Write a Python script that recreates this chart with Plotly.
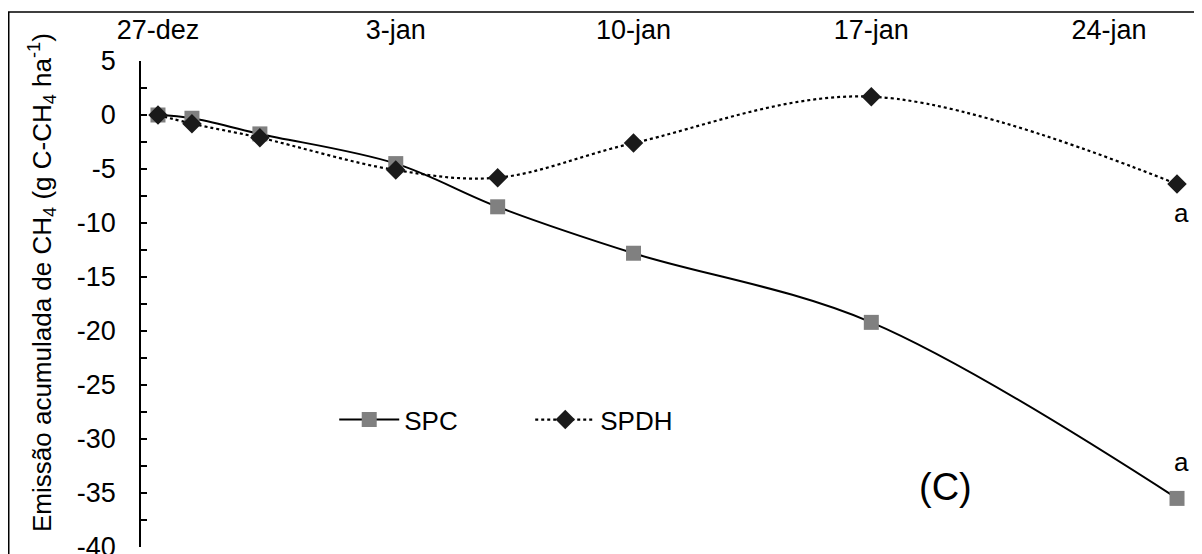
import pandas as pd
import plotly.graph_objects as go

# ---- data ----
dates = ["2012-12-27", "2012-12-28", "2012-12-30", "2013-01-03",
         "2013-01-06", "2013-01-10", "2013-01-17", "2013-01-26"]
spc = [0.0, -0.3, -1.75, -4.5, -8.5, -12.8, -19.2, -35.5]
spdh = [0.0, -0.8, -2.1, -5.1, -5.8, -2.6, 1.7, -6.4]
tick_dates = ["2012-12-27", "2013-01-03", "2013-01-10", "2013-01-17", "2013-01-24"]
tick_labels = ["27-dez", "3-jan", "10-jan", "17-jan", "24-jan"]
y_ticks = [5, 0, -5, -10, -15, -20, -25, -30, -35, -40]
series_names = ["SPC", "SPDH"]
sig_letters = ["a", "a"]
panel_label = "(C)"
y_title = "Emissão acumulada de CH<sub>4</sub> (g C-CH<sub>4</sub> ha<sup>-1</sup>)"

FONT = "Liberation Sans, Arial, sans-serif"
half_day = pd.Timedelta(hours=12)
x_pts = pd.to_datetime(dates) + half_day          # Excel date axis: points centred in the day
lab_pos = pd.to_datetime(tick_dates) + half_day
tick_pos = pd.to_datetime(tick_dates)
x_range = ["2012-12-27", "2013-01-27"]

# page has an 8px body margin: figure is placed at (8, 8)
W, H = 1194, 546
L, T = 133, 53
R, B = W - 1186, H - 539
PW, PH = W - L - R, H - T - B


def px_x(page_x):
    return (page_x - 8 - L) / PW


def px_y(page_y):
    return (T + PH - (page_y - 8)) / PH


fig = go.Figure()
fig.add_trace(go.Scatter(
    x=x_pts, y=spc, name=series_names[0], mode="lines+markers",
    line=dict(color="black", width=2, shape="spline", smoothing=1.0),
    marker=dict(symbol="square", size=15, color="#808080"),
))
fig.add_trace(go.Scatter(
    x=x_pts, y=spdh, name=series_names[1], mode="lines+markers",
    line=dict(color="black", width=2.2, dash="dot", shape="spline", smoothing=1.0),
    marker=dict(symbol="diamond", size=15, color="#1a1a1a"),
))

fig.update_layout(
    width=W, height=H,
    margin=dict(l=L, r=R, t=T, b=B, autoexpand=False),
    paper_bgcolor="white", plot_bgcolor="white",
    font=dict(family=FONT, color="black", size=27),
    showlegend=True,
    legend=dict(orientation="h", x=0.1835, y=0.262, xanchor="left", yanchor="middle",
                font=dict(size=26, family=FONT), bgcolor="rgba(0,0,0,0)",
                entrywidth=121, itemwidth=60),
    xaxis=dict(type="date", range=x_range, side="top", anchor="y", automargin=False,
               tickmode="array", tickvals=lab_pos, ticktext=tick_labels,
               ticks="", showline=False, showgrid=False, zeroline=False,
               tickfont=dict(size=27, family=FONT), ticklabelstandoff=16,
               ticklabeloverflow="allow"),
    xaxis2=dict(type="date", range=x_range, overlaying="x", side="top", automargin=False,
                anchor="free", position=40 / 45,
                tickmode="array", tickvals=tick_pos, showticklabels=False,
                ticks="outside", ticklen=7, tickwidth=1.5, tickcolor="black",
                showline=True, linecolor="black", linewidth=1.5,
                showgrid=False, zeroline=False),
    yaxis=dict(range=[-40, 5], tickmode="array", tickvals=y_ticks, automargin=False,
               ticktext=[str(v) for v in y_ticks],
               ticks="inside", ticklen=6,
               tickwidth=1.5, tickcolor="black", showline=True, linecolor="black",
               linewidth=1.5, showgrid=False, zeroline=False,
               tickfont=dict(size=27, family=FONT), ticklabelstandoff=18,
               ticklabeloverflow="allow",
               minor=dict(dtick=2.5, tick0=0, ticks="inside", ticklen=6, tickwidth=1.5,
                          tickcolor="black", showgrid=False)),
)

# outer frame of the chart area (extends past right and bottom edges)
fig.add_shape(type="rect", xref="paper", yref="paper",
              x0=px_x(8.75), x1=1.05, y0=-0.08, y1=px_y(12),
              line=dict(color="black", width=1.5), layer="above")

# y-axis title (placed like the original, slightly above the plot centre)
fig.add_annotation(x=px_x(42), y=px_y(283), xref="paper", yref="paper",
                   xanchor="center", yanchor="middle",
                   text=y_title, textangle=-90, showarrow=False,
                   font=dict(size=26, family=FONT))

fig.add_annotation(x=x_pts[-1], y=spdh[-1], text=sig_letters[1], showarrow=False,
                   xshift=4, yshift=-29, font=dict(size=26, family=FONT))
fig.add_annotation(x=x_pts[-1], y=spc[-1], text=sig_letters[0], showarrow=False,
                   xshift=4, yshift=36, font=dict(size=26, family=FONT))
fig.add_annotation(x=px_x(945), y=px_y(487), xref="paper", yref="paper",
                   xanchor="center", yanchor="middle",
                   text=panel_label, showarrow=False, font=dict(size=38, family=FONT))

fig.write_html("out.html")
